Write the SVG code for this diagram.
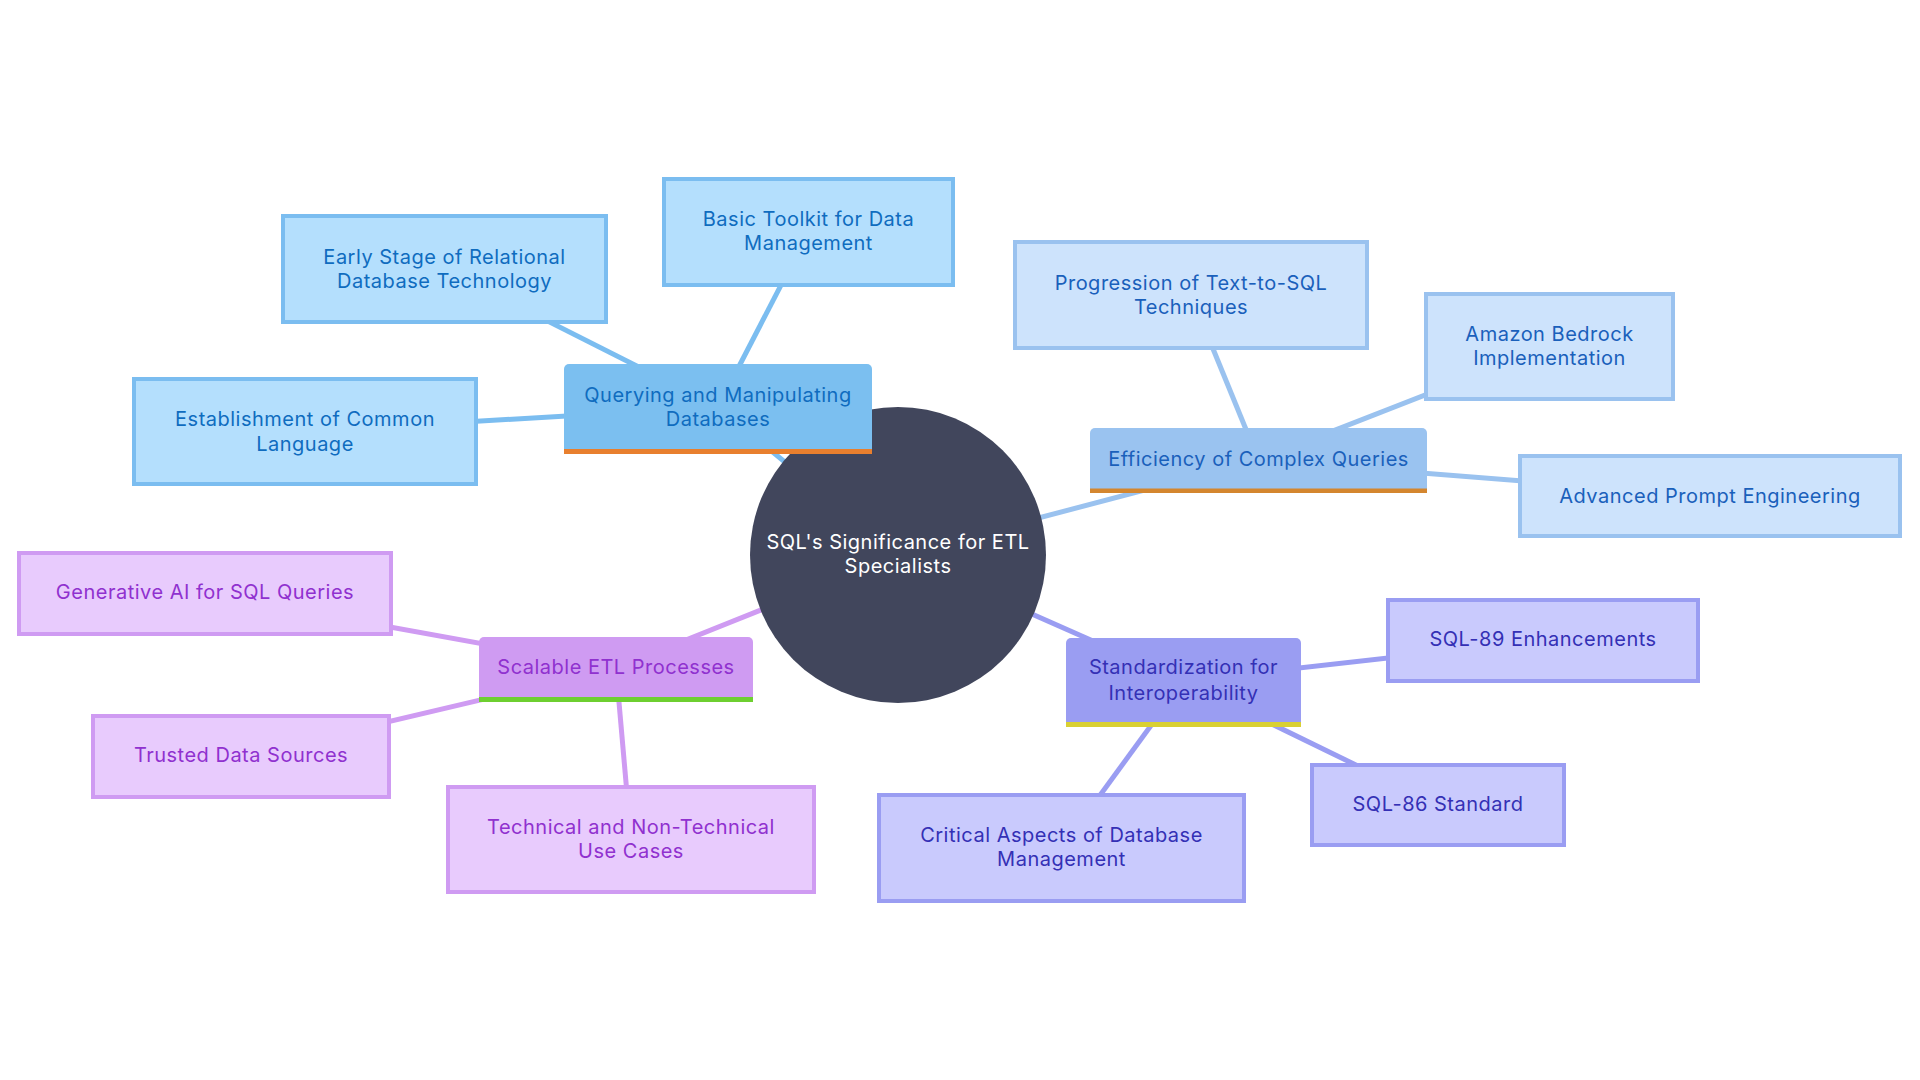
<svg xmlns="http://www.w3.org/2000/svg" width="1920" height="1080" viewBox="0 0 1920 1080">
<style>
text{font-family:Inter,"Noto Sans","Liberation Sans",sans-serif;font-size:20px;letter-spacing:0.5px;text-anchor:middle;dominant-baseline:central}
.e{fill:none;stroke-width:5}
.bl{stroke:#7bbdf0}.ef{stroke:#9ac2ef}.pu{stroke:#cf9bf2}.in{stroke:#9a9df2}
.leaf{stroke-width:4}
.lb{fill:#b4dffd;stroke:#7bbdf0}.tb{fill:#0f6cbf}
.le{fill:#cde3fc;stroke:#9ac2ef}.te{fill:#1a60bb}
.lp{fill:#e8cbfd;stroke:#cf9bf2}.tp{fill:#9031cf}
.li{fill:#c9cafd;stroke:#9a9df2}.ti{fill:#3430b5}
</style>
<rect width="1920" height="1080" fill="#ffffff"/>
<g id="connectors">
<line class="e bl" x1="898" y1="555" x2="718" y2="407"/>
<line class="e bl" x1="718" y1="407" x2="444.5" y2="269"/>
<line class="e bl" x1="718" y1="407" x2="808.5" y2="232"/>
<line class="e bl" x1="718" y1="407" x2="305" y2="431.5"/>
<line class="e ef" x1="898" y1="555" x2="1258.5" y2="460"/>
<line class="e ef" x1="1258.5" y1="460" x2="1191" y2="295"/>
<line class="e ef" x1="1258.5" y1="460" x2="1549.5" y2="346.5"/>
<line class="e ef" x1="1258.5" y1="460" x2="1710" y2="496"/>
<line class="e pu" x1="898" y1="555" x2="616" y2="668"/>
<line class="e pu" x1="616" y1="668" x2="205" y2="593.5"/>
<line class="e pu" x1="616" y1="668" x2="241" y2="756.5"/>
<line class="e pu" x1="616" y1="668" x2="631" y2="839.5"/>
<line class="e in" x1="898" y1="555" x2="1183.5" y2="681"/>
<line class="e in" x1="1183.5" y1="681" x2="1543" y2="640.5"/>
<line class="e in" x1="1183.5" y1="681" x2="1438" y2="805"/>
<line class="e in" x1="1183.5" y1="681" x2="1061.5" y2="848"/>
</g>
<g id="n-center"><circle cx="898" cy="555" r="148" fill="#41465c"/><text x="898" y="542" fill="#ffffff">SQL's Significance for ETL</text><text x="898" y="566" fill="#ffffff">Specialists</text></g>
<g id="n-early"><rect class="leaf lb" x="283" y="216" width="323" height="106"/><text class="tb" x="444.5" y="257">Early Stage of Relational</text><text class="tb" x="444.5" y="281">Database Technology</text></g>
<g id="n-basic"><rect class="leaf lb" x="664" y="179" width="289" height="106"/><text class="tb" x="808.5" y="219">Basic Toolkit for Data</text><text class="tb" x="808.5" y="243">Management</text></g>
<g id="n-establish"><rect class="leaf lb" x="134" y="379" width="342" height="105"/><text class="tb" x="305" y="419">Establishment of Common</text><text class="tb" x="305" y="444">Language</text></g>
<g id="n-progression"><rect class="leaf le" x="1015" y="242" width="352" height="106"/><text class="te" x="1191" y="283">Progression of Text-to-SQL</text><text class="te" x="1191" y="307">Techniques</text></g>
<g id="n-amazon"><rect class="leaf le" x="1426" y="294" width="247" height="105"/><text class="te" x="1549.5" y="334">Amazon Bedrock</text><text class="te" x="1549.5" y="358">Implementation</text></g>
<g id="n-advanced"><rect class="leaf le" x="1520" y="456" width="380" height="80"/><text class="te" x="1710" y="496">Advanced Prompt Engineering</text></g>
<g id="n-generative"><rect class="leaf lp" x="19" y="553" width="372" height="81"/><text class="tp" x="205" y="592">Generative AI for SQL Queries</text></g>
<g id="n-trusted"><rect class="leaf lp" x="93" y="716" width="296" height="81"/><text class="tp" x="241" y="755">Trusted Data Sources</text></g>
<g id="n-technical"><rect class="leaf lp" x="448" y="787" width="366" height="105"/><text class="tp" x="631" y="827">Technical and Non-Technical</text><text class="tp" x="631" y="851">Use Cases</text></g>
<g id="n-sql89"><rect class="leaf li" x="1388" y="600" width="310" height="81"/><text class="ti" x="1543" y="639">SQL-89 Enhancements</text></g>
<g id="n-sql86"><rect class="leaf li" x="1312" y="765" width="252" height="80"/><text class="ti" x="1438" y="804">SQL-86 Standard</text></g>
<g id="n-critical"><rect class="leaf li" x="879" y="795" width="365" height="106"/><text class="ti" x="1061.5" y="835">Critical Aspects of Database</text><text class="ti" x="1061.5" y="859">Management</text></g>
<g id="n-querying"><path d="M564 449V369a5 5 0 0 1 5-5H867a5 5 0 0 1 5 5V449Z" fill="#7bbff0"/><rect x="564" y="449" width="308" height="5" fill="#e87f2e"/><text class="tb" x="718" y="395">Querying and Manipulating</text><text class="tb" x="718" y="419">Databases</text></g>
<g id="n-efficiency"><path d="M1090 489V433a5 5 0 0 1 5-5H1422a5 5 0 0 1 5 5V489Z" fill="#9ac3f0"/><rect x="1090" y="488.5" width="337" height="4.5" fill="#d4862f"/><text class="te" x="1258.5" y="459">Efficiency of Complex Queries</text></g>
<g id="n-scalable"><path d="M479 697V642a5 5 0 0 1 5-5H748a5 5 0 0 1 5 5V697Z" fill="#cf9bf2"/><rect x="479" y="697" width="274" height="5" fill="#6ecf30"/><text class="tp" x="616" y="667">Scalable ETL Processes</text></g>
<g id="n-standard"><path d="M1066 722V643a5 5 0 0 1 5-5H1296a5 5 0 0 1 5 5V722Z" fill="#9a9df2"/><rect x="1066" y="722" width="235" height="5" fill="#d9d032"/><text class="ti" x="1183.5" y="667">Standardization for</text><text class="ti" x="1183.5" y="693">Interoperability</text></g>
</svg>
